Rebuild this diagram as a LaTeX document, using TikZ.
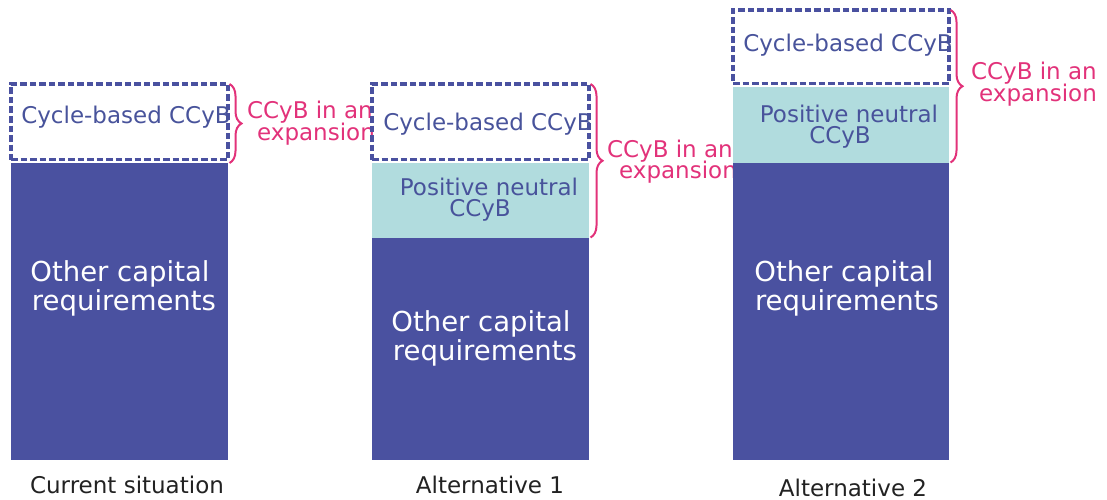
\documentclass[tikz,border=0pt]{standalone}
\usepackage{fontspec}
\setmainfont{DejaVu Sans}
\usetikzlibrary{decorations.pathreplacing}
\definecolor{bardark}{RGB}{74,81,160}
\definecolor{barteal}{RGB}{177,220,222}
\definecolor{txtblue}{RGB}{72,83,155}
\definecolor{bracepink}{RGB}{226,50,122}
\definecolor{labgray}{RGB}{34,34,34}
\begin{document}
\begin{tikzpicture}[x=1pt,y=-1pt,
  box/.style={inner sep=0pt, outer sep=0pt, anchor=north west},
  darkbar/.style={box, fill=bardark},
  tealbar/.style={box, fill=barteal},
  dashbox/.style={box, draw=bardark, line width=3.2pt, dash pattern=on 6.5pt off 3pt},
  bluetext/.style={anchor=base, inner sep=0pt, text=txtblue, font=\fontsize{23}{23}\selectfont},
  othtext/.style={anchor=base, inner sep=0pt, text=white, font=\fontsize{27.5}{27.5}\selectfont},
  brc/.style={draw=bracepink, line width=2pt, decorate, decoration={brace, amplitude=12pt}},
  brlab/.style={anchor=base east, inner sep=0pt, text=bracepink, font=\fontsize{23}{23}\selectfont},
  caption/.style={anchor=base, inner sep=0pt, text=labgray, font=\fontsize{23}{23}\selectfont}]
\useasboundingbox (0,0) rectangle (1107,500);

% ---------- Bar 1: Current situation ----------
\node[dashbox, minimum width=217pt, minimum height=75.5pt] (cb1) at (11,84) {};
\node[darkbar, minimum width=217pt, minimum height=297pt] (dk1) at (11,163) {};
\node[bluetext] (cbt1) at (126,123) {Cycle-based CCyB};
\node[othtext] (oa1) at (120,281) {Other capital};
\node[othtext] (ob1) at (124,310) {requirements};
\draw[brc] ([xshift=1.5pt]cb1.north east) -- ([xshift=1.5pt]dk1.north east);
\node[brlab] (la1) at (373,118) {CCyB in an};
\node[brlab] (lb1) at (375,140) {expansion};
\node[caption] (cap1) at (127,493) {Current situation};

% ---------- Bar 2: Alternative 1 ----------
\node[dashbox, minimum width=217pt, minimum height=75.5pt] (cb2) at (372,84) {};
\node[tealbar, minimum width=217pt, minimum height=74.5pt] (tl2) at (372,163) {};
\node[darkbar, minimum width=217pt, minimum height=222.5pt] (dk2) at (372,237.5) {};
\node[bluetext] (cbt2) at (488,130) {Cycle-based CCyB};
\node[bluetext] (pa2) at (489,195) {Positive neutral};
\node[bluetext] (pb2) at (480,216) {CCyB};
\node[othtext] (oa2) at (481,331) {Other capital};
\node[othtext] (ob2) at (485,360) {requirements};
\draw[brc] ([xshift=1.5pt]cb2.north east) -- ([xshift=1.5pt]tl2.south east);
\node[brlab] (la2) at (733,157) {CCyB in an};
\node[brlab] (lb2) at (737,178) {expansion};
\node[caption] (cap2) at (490,493) {Alternative 1};

% ---------- Bar 3: Alternative 2 ----------
\node[dashbox, minimum width=216pt, minimum height=73.5pt] (cb3) at (733,10) {};
\node[tealbar, minimum width=216pt, minimum height=75.5pt] (tl3) at (733,87) {};
\node[darkbar, minimum width=216pt, minimum height=297.5pt] (dk3) at (733,162.5) {};
\node[bluetext] (cbt3) at (848,52) {Cycle-based CCyB};
\node[bluetext] (pa3) at (849,122) {Positive neutral};
\node[bluetext] (pb3) at (840,143) {CCyB};
\node[othtext] (oa3) at (844,281) {Other capital};
\node[othtext] (ob3) at (847,310) {requirements};
\draw[brc] ([xshift=1.5pt]cb3.north east) -- ([xshift=1.5pt]tl3.south east);
\node[brlab] (la3) at (1097,80) {CCyB in an};
\node[brlab] (lb3) at (1097,102) {expansion};
\node[caption] (cap3) at (853,496) {Alternative 2};
\end{tikzpicture}
\end{document}
